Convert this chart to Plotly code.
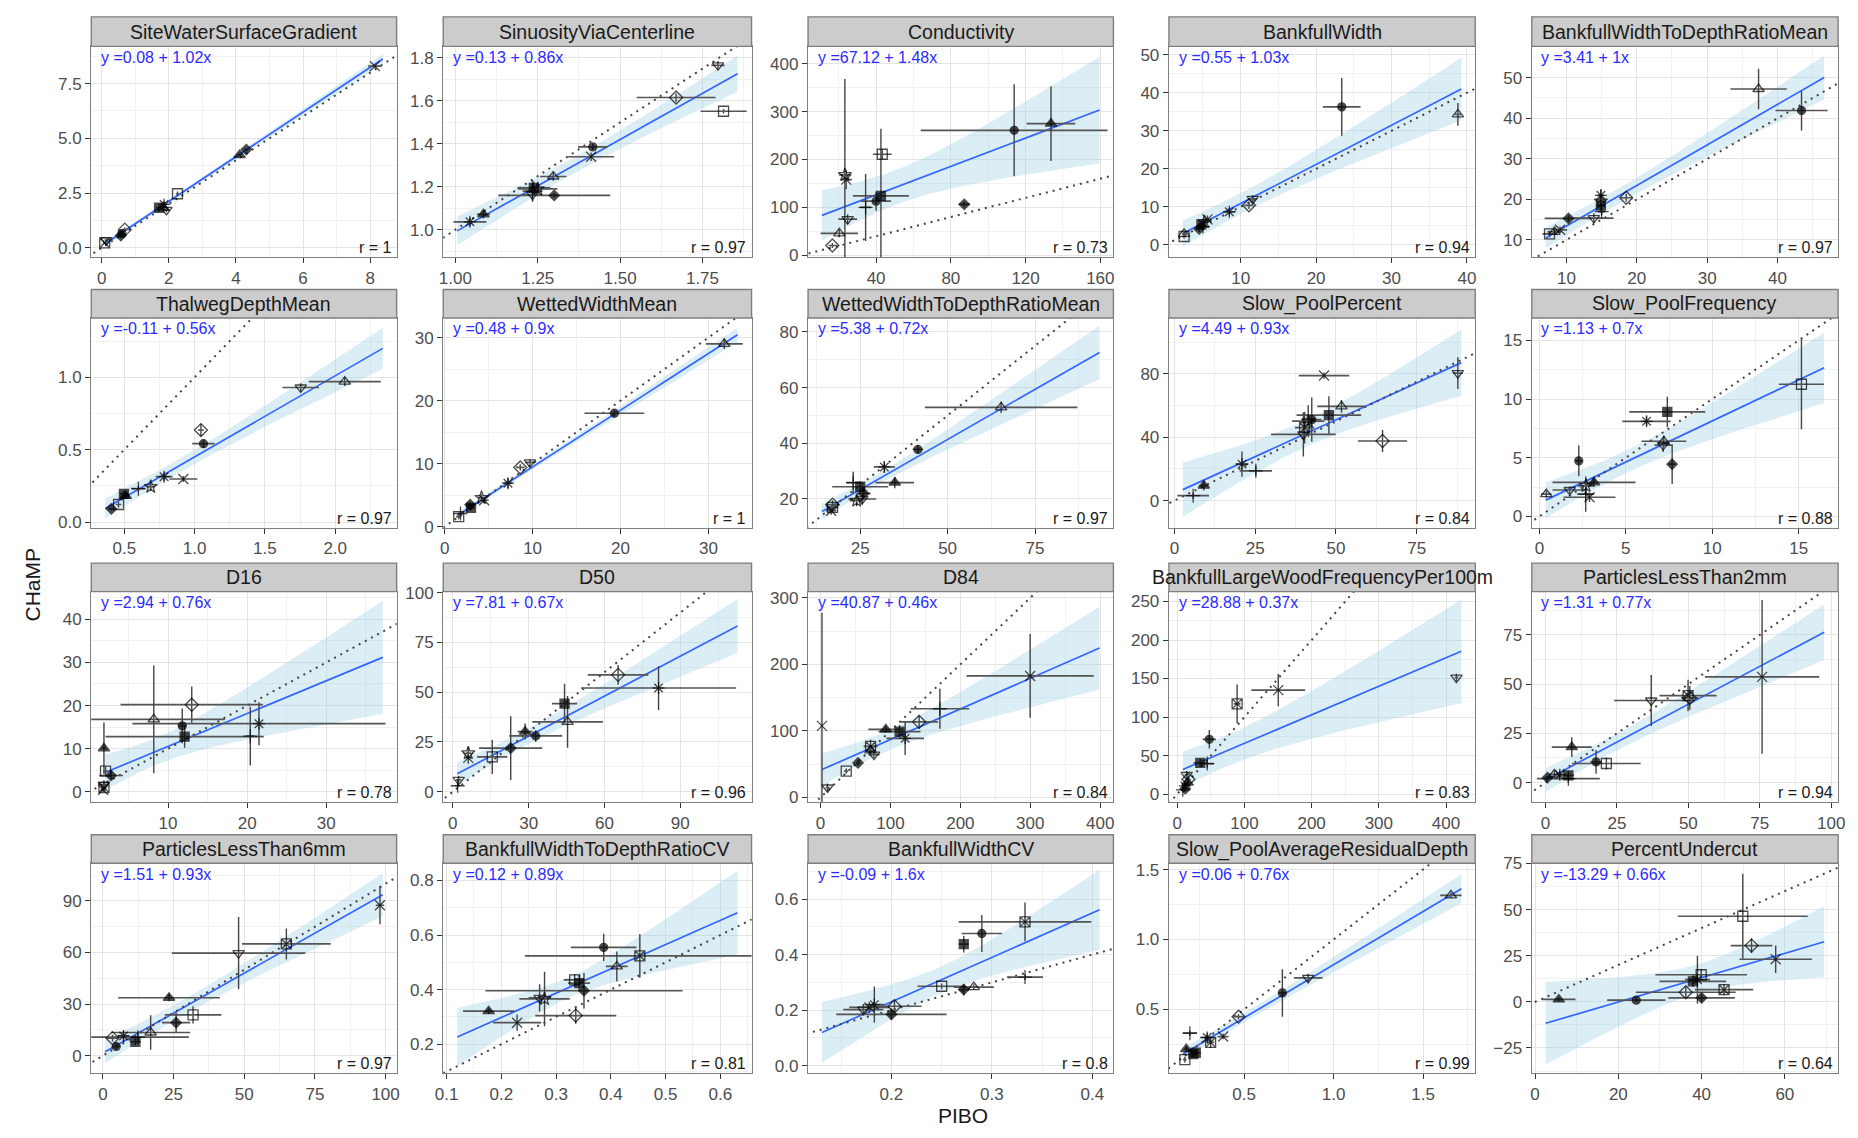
import numpy as np
import plotly.graph_objects as go

W, H = 1858, 1138

TITLES = ["SiteWaterSurfaceGradient", "SinuosityViaCenterline", "Conductivity", "BankfullWidth",
          "BankfullWidthToDepthRatioMean", "ThalwegDepthMean", "WettedWidthMean",
          "WettedWidthToDepthRatioMean", "Slow_PoolPercent", "Slow_PoolFrequency", "D16", "D50", "D84",
          "BankfullLargeWoodFrequencyPer100m", "ParticlesLessThan2mm", "ParticlesLessThan6mm",
          "BankfullWidthToDepthRatioCV", "BankfullWidthCV", "Slow_PoolAverageResidualDepth", "PercentUndercut"]
INTERCEPTS = [0.08, 0.13, 67.12, 0.55, 3.41, -0.11, 0.48, 5.38, 4.49, 1.13,
              2.94, 7.81, 40.87, 28.88, 1.31, 1.51, 0.12, -0.09, 0.06, -13.29]
SLOPES = [1.02, 0.86, 1.48, 1.03, 1, 0.56, 0.9, 0.72, 0.93, 0.7,
          0.76, 0.67, 0.46, 0.37, 0.77, 0.93, 0.89, 1.6, 0.76, 0.66]
R_VALUES = [1, 0.97, 0.73, 0.94, 0.97, 0.97, 1, 0.97, 0.84, 0.88,
            0.78, 0.96, 0.84, 0.83, 0.94, 0.97, 0.81, 0.8, 0.99, 0.64]

# ---- per-panel data (PIBO = x, CHaMP = y, with error half-widths) ----
gradient_x = [8.14, 4.11, 4.31, 2.26, 1.71, 1.86, 1.93, 1.83, 0.69, 0.57, 0.60, 0.09, 0.14]
gradient_y = [8.30, 4.24, 4.49, 2.47, 1.83, 1.98, 1.73, 1.83, 0.83, 0.56, 0.65, 0.23, 0.35]
gradient_xe = [0.2, 0.05, 0.05, 0.05, 0.1, 0.1, 0.1, 0.1, 0.08, 0.05, 0.05, 0.05, 0.05]
gradient_ye = [0.1, 0.05, 0.05, 0.1, 0.1, 0.15, 0.1, 0.1, 0.1, 0.05, 0.05, 0.05, 0.05]
gradient_sym = ["x", "tu", "di", "sq_o", "sq", "ast", "td_o", "tu_o", "di_o", "di", "ci", "sqx", "td_o"]

sinuosity_x = [1.797, 1.67, 1.814, 1.417, 1.412, 1.297, 1.238, 1.234, 1.30, 1.234, 1.085, 1.044, 1.25]
sinuosity_y = [1.766, 1.616, 1.552, 1.386, 1.340, 1.248, 1.195, 1.18, 1.16, 1.164, 1.072, 1.037, 1.19]
sinuosity_xe = [0.02, 0.12, 0.07, 0.045, 0.07, 0.04, 0.05, 0.03, 0.17, 0.03, 0.02, 0.05, 0.06]
sinuosity_ye = [0.02, 0.02, 0.01, 0.015, 0.02, 0.02, 0.03, 0.05, 0.01, 0.03, 0.02, 0.02, 0.02]
sinuosity_sym = ["td_o", "di_o", "sq_o", "ci", "x", "tu_o", "sq", "plus", "di", "td_o", "tu", "ast", "hex"]

conductivity_x = [16.6, 20.3, 24.8, 23.3, 24.0, 43.3, 42.6, 34.4, 40.0, 87.2, 113.9, 133.6]
conductivity_y = [20.6, 46, 75.6, 168, 158, 211, 124, 100, 113, 106.5, 261, 275]
conductivity_xe = [2, 10, 5, 3, 3, 5, 15, 3, 8, 3, 50, 13]
conductivity_ye = [5, 8, 10, 200, 20, 10, 140, 70, 20, 5, 96, 78]
conductivity_sym = ["di_o", "tu_o", "td_o", "hex", "x", "sq_o", "sq", "plus", "ci", "di", "ci", "tu"]

bfwidth_x = [2.5, 2.5, 4.8, 4.5, 5.2, 5.6, 8.5, 11.1, 11.6, 23.4, 38.8, 5.0]
bfwidth_y = [2.2, 2.9, 5.4, 4.2, 6.0, 6.7, 8.7, 10.4, 12.1, 36.3, 34.3, 4.8]
bfwidth_xe = [0.3, 0.3, 0.5, 0.5, 0.5, 0.6, 0.8, 0.6, 0.6, 2.5, 0.4, 0.5]
bfwidth_ye = [0.5, 0.5, 0.8, 0.8, 0.8, 1.0, 1.0, 1.0, 1.0, 7.6, 3.0, 0.8]
bfwidth_sym = ["sq_o", "tu_o", "sq", "di", "hex", "x", "ast", "di_o", "td_o", "ci", "tu_o", "plus"]

bfwdr_x = [37.3, 43.4, 18.5, 14.9, 14.9, 14.9, 13.9, 10.3, 8.3, 7.6, 9.1, 15.0]
bfwdr_y = [47.2, 41.9, 20.4, 18.5, 21.0, 19.5, 15.4, 15.3, 12.0, 11.5, 12.5, 17.0]
bfwdr_xe = [4, 3.7, 0.8, 0.5, 0.5, 0.5, 2.8, 3.4, 1, 1, 1, 0.5]
bfwdr_ye = [5, 4.9, 1, 1.5, 1.5, 1.5, 1.2, 0.8, 0.8, 0.8, 0.8, 1]
bfwdr_sym = ["tu_o", "ci", "di_o", "sq", "ast", "hex", "td_o", "di", "tu_o", "sq_o", "x", "plus"]

thalweg_x = [2.068, 1.755, 1.045, 1.063, 0.92, 0.783, 0.688, 0.60, 0.497, 0.51, 0.459, 0.408]
thalweg_y = [0.970, 0.929, 0.635, 0.541, 0.297, 0.313, 0.244, 0.23, 0.194, 0.18, 0.121, 0.091]
thalweg_xe = [0.256, 0.13, 0.02, 0.08, 0.1, 0.06, 0.03, 0.05, 0.03, 0.03, 0.02, 0.02]
thalweg_ye = [0.03, 0.03, 0.04, 0.03, 0.02, 0.03, 0.03, 0.02, 0.02, 0.02, 0.02, 0.01]
thalweg_sym = ["tu_o", "td_o", "di_o", "ci", "x", "ast", "hex", "plus", "sq", "tu", "sq_o", "di"]

wetted_x = [31.8, 19.3, 9.7, 8.6, 7.2, 4.5, 4.2, 3.0, 2.9, 1.6, 1.8]
wetted_y = [29.0, 18.0, 10.2, 9.4, 6.9, 4.2, 4.6, 3.0, 3.5, 1.6, 2.1]
wetted_xe = [2.1, 3.4, 0.5, 0.5, 0.5, 0.5, 0.4, 0.4, 0.4, 0.3, 0.3]
wetted_ye = [0.8, 0.5, 0.5, 0.5, 0.8, 0.5, 0.5, 0.4, 0.4, 0.4, 0.3]
wetted_sym = ["tu_o", "ci", "td_o", "di_o", "ast", "x", "hex", "sq", "di", "sq_o", "plus"]

wwdr_x = [65.3, 41.5, 31.9, 34.9, 25.0, 23.0, 25.6, 24.0, 17.1, 17.1, 16.7, 26.0]
wwdr_y = [52.9, 37.8, 31.5, 25.9, 24.4, 25.9, 20.0, 19.4, 18.0, 17.0, 15.8, 22.0]
wwdr_xe = [21.8, 1.5, 3, 5.5, 8, 2, 4, 2, 2, 1.5, 1.5, 2]
wwdr_ye = [2, 1.5, 2, 2, 2, 3.9, 2, 2, 1.5, 1.5, 1.5, 2]
wwdr_sym = ["tu_o", "ci", "ast", "tu", "sq", "plus", "td_o", "hex", "di_o", "sq_o", "x", "di"]

poolpct_x = [87.7, 46.3, 51.7, 47.8, 42.5, 41.4, 39.9, 64.4, 40.3, 20.9, 25.2, 9.1, 5.8]
poolpct_y = [80.4, 78.9, 59.5, 53.9, 51.1, 50.1, 41.8, 37.6, 46.0, 23.0, 18.8, 9.4, 3.1]
poolpct_xe = [1.5, 7.8, 7.5, 10, 3, 5, 10, 7.6, 3, 2, 5, 1.5, 4.9]
poolpct_ye = [10, 2, 4, 12, 14, 10, 14, 7, 10, 8, 3, 3, 2]
poolpct_sym = ["td_o", "x", "tu_o", "sq", "ci", "hex", "td_o", "di_o", "sqx", "ast", "plus", "tu", "plus"]

poolfreq_x = [15.16, 7.4, 6.2, 7.2, 7.16, 7.68, 2.28, 3.16, 1.76, 2.68, 2.9, 0.4, 2.7]
poolfreq_y = [11.26, 8.9, 8.1, 6.4, 6.08, 4.45, 4.73, 2.9, 2.25, 1.9, 1.63, 1.9, 2.6]
poolfreq_xe = [1.3, 2.2, 1.4, 1.3, 0.5, 0.2, 0.2, 2.4, 1.0, 0.5, 1.5, 0.3, 0.5]
poolfreq_ye = [3.84, 1.3, 0.4, 0.5, 0.6, 1.7, 1.3, 0.4, 0.3, 1.5, 0.4, 0.3, 0.6]
poolfreq_sym = ["sq_o", "sq", "ast", "tu_o", "td_o", "di", "ci", "tu", "td_o", "plus", "x", "tu_o", "hex"]

d16_x = [13.0, 8.2, 11.8, 12.1, 21.5, 20.4, 1.9, 2.1, 2.8, 1.9, 1.9, 1.8]
d16_y = [20.2, 16.8, 15.3, 12.8, 15.8, 12.9, 10.1, 4.8, 3.8, 1.7, 1.0, 0.5]
d16_xe = [9, 9, 0.5, 10, 16, 0.5, 0.3, 0.3, 1.5, 0.3, 0.3, 0.3]
d16_ye = [4.2, 12.5, 4, 2.6, 5, 6.8, 6, 1, 1, 1, 1, 0.5]
d16_sym = ["di_o", "tu_o", "ci", "sq", "ast", "plus", "tu", "sq_o", "di", "td_o", "sqx", "x"]

d50_x = [65.4, 81.4, 44.2, 45.4, 28.6, 32.8, 22.9, 15.6, 6.1, 6.1, 2.3, 1.9]
d50_y = [58.7, 52.1, 44.2, 35.1, 30.2, 28.0, 21.9, 17.5, 17.0, 19.4, 5.9, 3.0]
d50_xe = [12, 30.7, 5, 14, 3, 10.5, 12.5, 6, 1, 1, 1, 1]
d50_ye = [5, 11, 10, 13, 4, 3, 16, 8.6, 3, 3, 2, 1]
d50_sym = ["di_o", "ast", "sq", "tu_o", "tu", "ci", "di", "sq_o", "x", "hex", "td_o", "plus"]

d84_x = [299.8, 170.7, 141, 113, 121, 93.3, 71.5, 71.5, 76.4, 53.6, 36.7, 9.9, 2.0]
d84_y = [182.5, 133.2, 113.5, 98.7, 88.8, 102.1, 76.5, 70.5, 64.1, 51.8, 39.5, 14.8, 107.5]
d84_xe = [91, 42, 27, 30, 27, 25, 10, 5, 8, 3, 3, 3, 1]
d84_ye = [63, 30, 10, 10, 25, 5, 10, 8, 5, 4, 4, 6, 170]
d84_sym = ["x", "plus", "di_o", "sq", "ast", "tu", "sqx", "tu_o", "td_o", "di", "sq_o", "td_o", "x"]

lwd_x = [415.5, 150.3, 89.1, 47.7, 34.2, 44.6, 16.6, 14, 8.3, 11.4, 15.5, 12]
lwd_y = [151.2, 135, 117.1, 71.1, 40.5, 39.6, 19.2, 25, 5.5, 10.6, 14.9, 7]
lwd_xe = [3, 40, 5, 10, 10, 10, 3, 3, 3, 3, 3, 3]
lwd_ye = [5, 21, 25, 12, 5, 5, 5, 5, 3, 3, 4, 3]
lwd_sym = ["td_o", "x", "sqx", "ci", "sq", "plus", "di_o", "td_o", "plus", "ast", "tu", "di"]

pl2_x = [75.8, 49.9, 50.5, 37.0, 9.2, 21.3, 17.7, 8.0, 8.0, 3.1, 0.7, 5.0]
pl2_y = [53.7, 44.2, 43, 41.7, 18.0, 9.7, 10.5, 2.0, 3.7, 4.2, 2.5, 4.0]
pl2_xe = [20, 10, 3, 13, 7, 12, 2, 11, 2, 2, 1, 2]
pl2_ye = [39, 8, 6, 13, 5, 3, 6, 2, 2, 2, 1, 2]
pl2_sym = ["x", "sqx", "di_o", "td_o", "tu", "sq_o", "ci", "plus", "sq", "tu_o", "di", "ast"]

pl6_x = [98, 64.9, 48, 23.4, 31.9, 25.9, 16.9, 12.4, 11.5, 7.3, 3.4, 4.7]
pl6_y = [87.5, 65, 59.6, 33.7, 23.7, 19.2, 13.5, 10.8, 8.1, 11.5, 10.2, 5.4]
pl6_xe = [1.5, 15.7, 23.6, 18, 10, 5, 14, 18, 2, 2, 2, 1.5]
pl6_ye = [11, 9, 21, 2, 5, 6, 10, 3, 2, 3, 2, 2]
pl6_sym = ["x", "sqx", "td_o", "tu", "sq_o", "di", "tu_o", "plus", "sq", "ast", "di_o", "ci"]

bwdrcv_x = [0.387, 0.453, 0.411, 0.334, 0.342, 0.351, 0.279, 0.336, 0.229, 0.177, 0.27]
bwdrcv_y = [0.555, 0.524, 0.485, 0.436, 0.424, 0.396, 0.366, 0.305, 0.279, 0.321, 0.37]
bwdrcv_xe = [0.06, 0.21, 0.02, 0.02, 0.02, 0.18, 0.046, 0.074, 0.044, 0.047, 0.02]
bwdrcv_ye = [0.05, 0.08, 0.055, 0.02, 0.03, 0.065, 0.1, 0.03, 0.03, 0.01, 0.05]
bwdrcv_sym = ["ci", "sqx", "tu_o", "sq_o", "sq", "di", "hex", "di_o", "x", "tu", "td_o"]

bwcv_x = [0.333, 0.29, 0.272, 0.333, 0.282, 0.25, 0.272, 0.203, 0.183, 0.172, 0.2, 0.178]
bwcv_y = [0.518, 0.476, 0.438, 0.319, 0.283, 0.286, 0.274, 0.214, 0.22, 0.202, 0.185, 0.21]
bwcv_xe = [0.066, 0.02, 0.005, 0.018, 0.02, 0.024, 0.005, 0.027, 0.01, 0.02, 0.055, 0.02]
bwcv_ye = [0.07, 0.067, 0.03, 0.01, 0.01, 0.01, 0.02, 0.02, 0.065, 0.02, 0.02, 0.02]
bwcv_sym = ["sqx", "ci", "sq", "plus", "tu_o", "sq_o", "di", "di_o", "ast", "td_o", "di", "x"]

resid_x = [1.656, 0.858, 0.714, 0.469, 0.383, 0.197, 0.294, 0.313, 0.216, 0.23, 0.169, 0.177]
resid_y = [1.316, 0.725, 0.618, 0.448, 0.306, 0.33, 0.299, 0.264, 0.181, 0.19, 0.141, 0.216]
resid_xe = [0.06, 0.08, 0.02, 0.03, 0.03, 0.04, 0.04, 0.02, 0.02, 0.03, 0.01, 0.01]
resid_ye = [0.02, 0.03, 0.17, 0.02, 0.02, 0.02, 0.03, 0.04, 0.02, 0.02, 0.02, 0.02]
resid_sym = ["tu_o", "td_o", "ci", "di_o", "x", "plus", "ast", "sqx", "sq", "sq", "sq_o", "tu"]

undercut_x = [49.9, 52, 57.8, 39.9, 37.9, 39, 36.2, 45.4, 40, 24.3, 5.7]
undercut_y = [46.4, 30.5, 23.1, 14.7, 11.1, 12, 5.2, 6.6, 2.2, 0.9, 1.3]
undercut_xe = [15.6, 5, 8.7, 11, 8, 3, 12, 7, 8, 7, 4]
undercut_ye = [23, 4, 7.5, 3, 3, 13, 3, 3, 2, 1, 1]
undercut_sym = ["sq_o", "di_o", "x", "sq_o", "sq", "ast", "di_o", "sqx", "di", "ci", "tu"]

PANELS = [
    (gradient_x, gradient_y, gradient_xe, gradient_ye, gradient_sym),
    (sinuosity_x, sinuosity_y, sinuosity_xe, sinuosity_ye, sinuosity_sym),
    (conductivity_x, conductivity_y, conductivity_xe, conductivity_ye, conductivity_sym),
    (bfwidth_x, bfwidth_y, bfwidth_xe, bfwidth_ye, bfwidth_sym),
    (bfwdr_x, bfwdr_y, bfwdr_xe, bfwdr_ye, bfwdr_sym),
    (thalweg_x, thalweg_y, thalweg_xe, thalweg_ye, thalweg_sym),
    (wetted_x, wetted_y, wetted_xe, wetted_ye, wetted_sym),
    (wwdr_x, wwdr_y, wwdr_xe, wwdr_ye, wwdr_sym),
    (poolpct_x, poolpct_y, poolpct_xe, poolpct_ye, poolpct_sym),
    (poolfreq_x, poolfreq_y, poolfreq_xe, poolfreq_ye, poolfreq_sym),
    (d16_x, d16_y, d16_xe, d16_ye, d16_sym),
    (d50_x, d50_y, d50_xe, d50_ye, d50_sym),
    (d84_x, d84_y, d84_xe, d84_ye, d84_sym),
    (lwd_x, lwd_y, lwd_xe, lwd_ye, lwd_sym),
    (pl2_x, pl2_y, pl2_xe, pl2_ye, pl2_sym),
    (pl6_x, pl6_y, pl6_xe, pl6_ye, pl6_sym),
    (bwdrcv_x, bwdrcv_y, bwdrcv_xe, bwdrcv_ye, bwdrcv_sym),
    (bwcv_x, bwcv_y, bwcv_xe, bwcv_ye, bwcv_sym),
    (resid_x, resid_y, resid_xe, resid_ye, resid_sym),
    (undercut_x, undercut_y, undercut_xe, undercut_ye, undercut_sym),
]

# ---- axis settings: x range, y range, x dtick, y dtick, x format, y format ----
AXES = [
    ((-0.31, 8.79), (-0.42, 9.2), 2, 2.5, "", ".1f"),
    ((0.963, 1.899), (0.873, 1.854), 0.25, 0.2, ".2f", ".1f"),
    ((3.6, 167), (-3.4, 436), 40, 100, "", ""),
    ((0.49, 41.1), (-3.2, 52.2), 10, 10, "", ""),
    ((5.08, 48.6), (5.8, 57.7), 10, 10, "", ""),
    ((0.265, 2.437), (-0.039, 1.409), 0.5, 0.5, ".1f", ".1f"),
    ((-0.16, 34.9), (-0.15, 33.1), 10, 10, "", ""),
    ((10.1, 97.4), (9.7, 85.0), 25, 20, "", ""),
    ((-1.7, 93.1), (-17.1, 115.2), 25, 40, "", ""),
    ((-0.44, 17.28), (-0.96, 16.9), 5, 5, "", ""),
    ((0.30, 38.9), (-2.4, 46.4), 10, 10, "", ""),
    ((-3.8, 118.2), (-5.3, 100.5), 30, 25, "", ""),
    ((-17.9, 418.9), (-7.4, 309.3), 100, 100, "", ""),
    ((-12.4, 443.5), (-10.6, 262.8), 100, 50, "", ""),
    ((-4.8, 102.4), (-10, 97), 25, 25, "", ""),
    ((-4.1, 103.9), (-10, 111.9), 25, 30, "", ""),
    ((0.094, 0.657), (0.095, 0.863), 0.1, 0.2, ".1f", ".1f"),
    ((0.117, 0.421), (-0.026, 0.729), 0.1, 0.2, ".1f", ".1f"),
    ((0.08, 1.792), (0.046, 1.545), 0.5, 0.5, ".1f", ".1f"),
    ((-0.8, 72.8), (-38.5, 75.1), 20, 25, "", ""),
]

COL_X = [(83, 391), (438, 749), (806, 1114), (1170, 1479), (1536, 1845)]
ROW_Y = [(8, 38, 252), (285, 314, 527), (563, 592, 806), (839, 868, 1081)]

SYMBOLS = {"sq_o": "square-open", "sq": "square", "di_o": "diamond-open", "di": "diamond",
           "tu_o": "triangle-up-open", "tu": "triangle-up", "td_o": "triangle-down-open",
           "ast": "asterisk-open", "x": "x-thin-open", "plus": "cross-thin-open", "ci": "circle",
           "sqx": "square-x-open", "hex": "star-open"}
SIZES = {"di": 8, "ci": 8, "sq": 9}
T95 = {7: 2.365, 8: 2.306, 9: 2.262, 10: 2.228, 11: 2.201, 12: 2.179, 13: 2.160}

FONT = "Liberation Sans, Arial, sans-serif"
fig = go.Figure()
layout = dict(width=W, height=H, margin=dict(l=0, r=0, t=0, b=0), showlegend=False,
              paper_bgcolor="white", plot_bgcolor="white", font=dict(family=FONT),
              separators=".,")
shapes, annotations = [], []

for i in range(20):
    n = i + 1
    col, row = i % 5, i // 5
    x0p, x1p = COL_X[col]
    st, sb, pb = ROW_Y[row]
    xr, yr, dx, dy, fx, fy = AXES[i]
    xs_name = "x" if n == 1 else f"x{n}"
    ys_name = "y" if n == 1 else f"y{n}"
    axkey = "" if n == 1 else str(n)
    common = dict(showline=True, mirror=True, linecolor="#7F7F7F", linewidth=1.4,
                  ticks="outside", ticklen=5, tickwidth=1.4, tickcolor="#333333",
                  tickfont=dict(family=FONT, size=17, color="#4D4D4D"),
                  showgrid=True, gridcolor="#E4E4E4", gridwidth=1.4, zeroline=False, tick0=0)
    layout["xaxis" + axkey] = dict(common, domain=[x0p / W, x1p / W], range=list(xr), dtick=dx,
                                   tickformat=fx, anchor=ys_name,
                                   minor=dict(dtick=dx / 2, tick0=0, showgrid=True, gridcolor="#F1F1F1",
                                              gridwidth=1, ticks=""))
    layout["yaxis" + axkey] = dict(common, domain=[1 - pb / H, 1 - sb / H], range=list(yr), dtick=dy,
                                   tickformat=fy, anchor=xs_name,
                                   minor=dict(dtick=dy / 2, tick0=0, showgrid=True, gridcolor="#F1F1F1",
                                              gridwidth=1, ticks=""))

    px, py, pxe, pye, psym = PANELS[i]
    x = np.array(px, float)
    y = np.array(py, float)
    a, b = INTERCEPTS[i], SLOPES[i]
    span = xr[1] - xr[0]
    lo, hi = xr[0] + span / 22, xr[1] - span / 22
    xs = np.linspace(lo, hi, 100)
    fit = a + b * xs
    nn = len(x)
    res = y - (a + b * x)
    s = np.sqrt(np.sum(res ** 2) / (nn - 2))
    xbar = x.mean()
    sxx = np.sum((x - xbar) ** 2)
    se = s * np.sqrt(1 / nn + (xs - xbar) ** 2 / sxx)
    t = T95.get(nn - 2, 2.2)
    upper, lower = fit + t * se, fit - t * se

    fig.add_trace(go.Scatter(x=np.concatenate([xs, xs[::-1]]), y=np.concatenate([upper, lower[::-1]]),
                             fill="toself", fillcolor="rgba(160,208,228,0.38)", line=dict(width=0),
                             mode="lines", hoverinfo="skip", xaxis=xs_name, yaxis=ys_name))
    fig.add_trace(go.Scatter(x=xs, y=fit, mode="lines", line=dict(color="#3366FF", width=1.7),
                             xaxis=xs_name, yaxis=ys_name))
    dlo = min(xr[0], yr[0])
    dhi = max(xr[1], yr[1])
    fig.add_trace(go.Scatter(x=[dlo, dhi], y=[dlo, dhi], mode="lines",
                             line=dict(color="#444444", width=2, dash="2px,5px"),
                             xaxis=xs_name, yaxis=ys_name))
    fig.add_trace(go.Scatter(
        x=px, y=py, mode="markers", xaxis=xs_name, yaxis=ys_name, cliponaxis=True,
        error_x=dict(type="data", array=pxe, visible=True, color="#555555", thickness=1.7, width=0),
        error_y=dict(type="data", array=pye, visible=True, color="#444444", thickness=1.4, width=0),
        marker=dict(symbol=[SYMBOLS[k] for k in psym], size=[SIZES.get(k, 10) for k in psym],
                    color="black", line=dict(color="black", width=1.3))))

    # strip
    shapes.append(dict(type="rect", xref="paper", yref="paper", x0=x0p / W, x1=x1p / W,
                       y0=1 - sb / H, y1=1 - st / H, fillcolor="#CCCCCC",
                       line=dict(color="#7F7F7F", width=1.4), layer="above"))
    annotations.append(dict(xref="paper", yref="paper", x=(x0p + x1p) / 2 / W, y=1 - (st + sb) / 2 / H,
                            text=TITLES[i], showarrow=False, xanchor="center", yanchor="middle",
                            font=dict(family=FONT, size=19.5, color="#1A1A1A")))
    eq = f"y ={a:g} + {b:g}x"
    annotations.append(dict(xref=f"{xs_name} domain", yref=f"{ys_name} domain", x=0.025, y=0.998,
                            text=eq, showarrow=False, xanchor="left", yanchor="top",
                            font=dict(family=FONT, size=16, color="#2B2BFF")))
    annotations.append(dict(xref=f"{xs_name} domain", yref=f"{ys_name} domain", x=0.99, y=-0.005,
                            text=f"r = {R_VALUES[i]:g}", showarrow=False, xanchor="right", yanchor="bottom",
                            font=dict(family=FONT, size=16, color="#1A1A1A")))

annotations.append(dict(xref="paper", yref="paper", x=24 / W, y=1 - 585 / H, text="CHaMP", textangle=-90,
                        showarrow=False, xanchor="center", yanchor="middle",
                        font=dict(family=FONT, size=21, color="#1A1A1A")))
annotations.append(dict(xref="paper", yref="paper", x=962 / W, y=1 - 1124 / H, text="PIBO",
                        showarrow=False, xanchor="center", yanchor="middle",
                        font=dict(family=FONT, size=21, color="#1A1A1A")))

layout["shapes"] = shapes
layout["annotations"] = annotations
fig.update_layout(**layout)
fig.write_html("out.html")
